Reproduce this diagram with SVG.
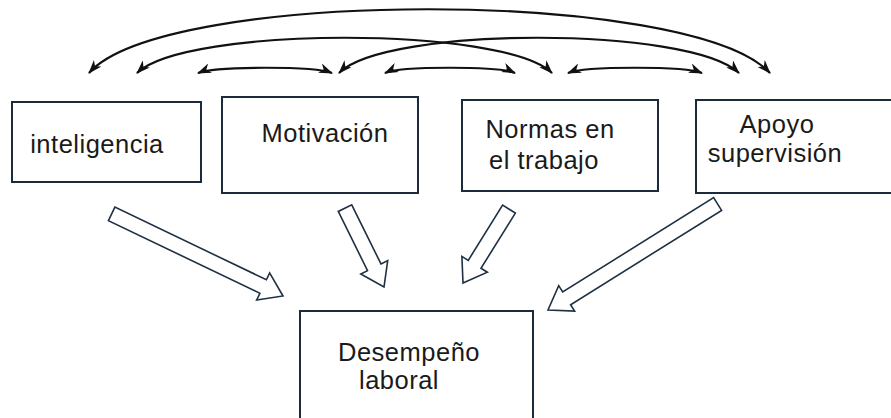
<svg xmlns="http://www.w3.org/2000/svg" width="891" height="418" viewBox="0 0 891 418">
<defs>
<marker id="ah" viewBox="0 0 14 10" refX="13" refY="5" markerWidth="14" markerHeight="10" markerUnits="userSpaceOnUse" orient="auto-start-reverse">
<path d="M0,0 L14,5 L0,10 L4,5 Z" fill="#111"/>
</marker>
</defs>
<style>
.box{fill:#fff;stroke:#1c2b3c;stroke-width:2}
.t{font-family:"Liberation Sans",Arial,sans-serif;font-size:25.5px;letter-spacing:0.5px;fill:#1a1a1a;text-anchor:middle}
.arc{fill:none;stroke:#111;stroke-width:2.2;marker-start:url(#ah);marker-end:url(#ah)}
.blk{fill:#fff;stroke:#1f3042;stroke-width:1.6;stroke-linejoin:miter}
</style>
<rect width="891" height="418" fill="#fff"/>
<g id="connectors">
<path class="arc" d="M89,73 C165,-12 690,-12 770,73"/>
<path class="arc" d="M137,73 C185,26 505,26 552,73"/>
<path class="arc" d="M339,73 C385,26 690,26 739,73"/>
<path class="arc" d="M198,73 C215,66 315,66 332,73"/>
<path class="arc" d="M385,73 C400,66 500,66 515,73"/>
<path class="arc" d="M568,73 C585,66 685,66 702,73"/>
<polygon class="blk" points="-22,-7.5 -22,-15 0,0 -22,15 -22,7.5 -190,7.5 -190,-7.5" transform="translate(283,296) rotate(25.6)"/>
<polygon class="blk" points="-22,-7.5 -22,-15 0,0 -22,15 -22,7.5 -88,7.5 -88,-7.5" transform="translate(384,287) rotate(63.7)"/>
<polygon class="blk" points="-22,-7.5 -22,-15 0,0 -22,15 -22,7.5 -87,7.5 -87,-7.5" transform="translate(463,283) rotate(121.9)"/>
<polygon class="blk" points="-22,-7.5 -22,-15 0,0 -22,15 -22,7.5 -200,7.5 -200,-7.5" transform="translate(548,310) rotate(148)"/>
</g>
<g id="inteligencia">
<rect class="box" x="12" y="102" width="189" height="80"/>
<text class="t" x="97" y="153">inteligencia</text>
</g>
<g id="motivacion">
<rect class="box" x="222" y="97" width="196" height="96"/>
<text class="t" x="325" y="142">Motivación</text>
</g>
<g id="normas">
<rect class="box" x="462" y="100" width="196" height="91"/>
<text class="t" x="550" y="138">Normas en</text>
<text class="t" x="544" y="169">el trabajo</text>
</g>
<g id="apoyo">
<rect class="box" x="696" y="100" width="200" height="93"/>
<text class="t" x="777" y="133">Apoyo</text>
<text class="t" x="775" y="162">supervisión</text>
</g>
<g id="desempeno">
<rect class="box" x="300" y="311" width="233" height="120"/>
<text class="t" x="409" y="361">Desempeño</text>
<text class="t" x="399" y="389">laboral</text>
</g>
</svg>
